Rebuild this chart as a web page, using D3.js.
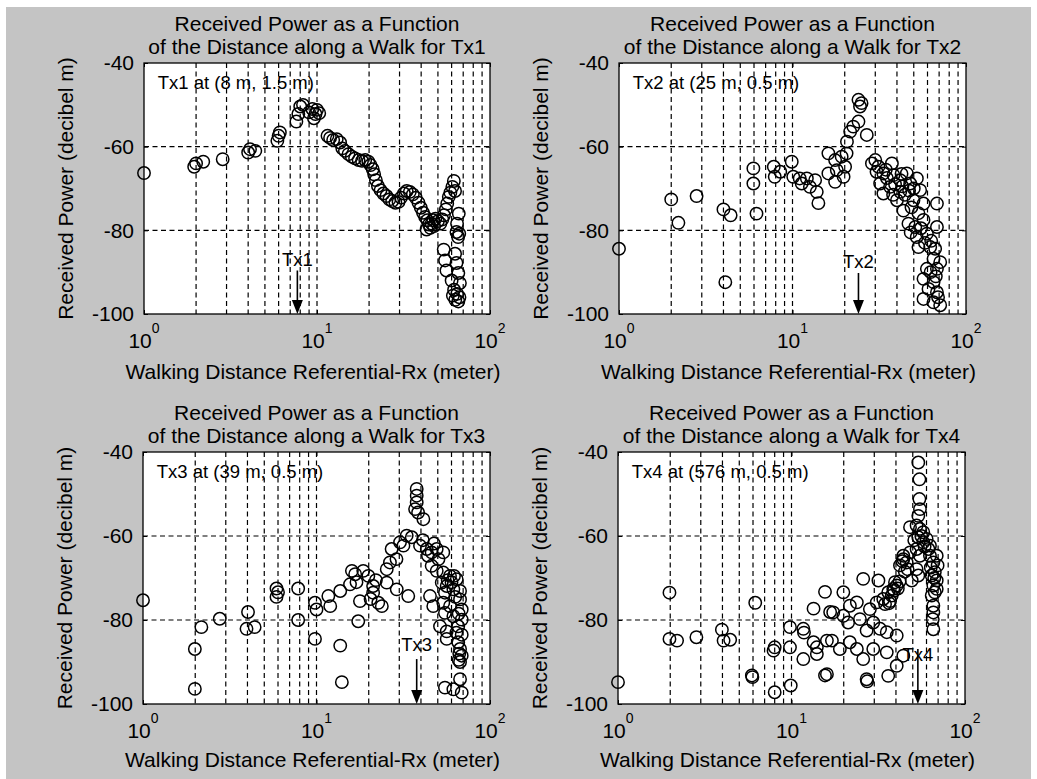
<!DOCTYPE html>
<html><head><meta charset="utf-8">
<script src="https://cdn.jsdelivr.net/npm/d3@7"></script>
<style>
body{margin:0;background:#fff}
svg{display:block}
text{font-family:"Liberation Sans",Arial,Helvetica,sans-serif;fill:#000}
</style>
</head><body>
<svg id="chart" width="1037" height="779"></svg>
<script>
// ---------- data ----------
const tx1Dist = [1.0,1.95,2.0,2.2,2.85,4.0,4.1,4.4,5.9,6.0,6.1,7.6,7.8,8.0,8.3,9.0,9.4,9.8,10.0,10.3,9.6,
 11.5,11.9,12.4,13.0,13.6,14.0,14.5,15.2,15.9,16.6,17.4,18.2,19.0,19.8,20.4,21.0,21.4,21.9,22.5,23.3,
 24.2,25.2,26.2,27.2,28.4,29.6,30.6,31.8,33.0,34.4,35.8,37.2,38.6,39.8,41.0,42.2,43.4,44.4,45.2,46.0,
 47.0,48.4,50.0,51.6,53.0,54.2,55.6,56.6,57.8,59.0,60.6,61.8,62.8,64.0,65.4,66.4,
 54.0,55.0,56.0,62.8,64.0,65.6,60.0,67.0,62.0,64.6,66.6,63.0,65.6,61.0,43.0,47.5,66.0,64.5];
const tx1Power = [-66.3,-64.8,-64.0,-63.6,-63.0,-61.4,-60.6,-61.0,-58.6,-57.4,-56.6,-54.0,-52.2,-50.4,-50.0,-51.8,-51.0,-52.2,-51.2,-52.0,-53.2,
 -57.4,-57.9,-58.4,-58.2,-59.0,-60.4,-61.0,-61.8,-62.4,-62.8,-63.2,-63.4,-63.2,-63.6,-64.4,-65.4,-66.6,-68.0,-69.4,-70.4,
 -71.2,-71.8,-72.6,-73.0,-73.4,-73.2,-72.2,-71.2,-70.6,-70.8,-71.4,-72.2,-73.4,-74.6,-75.8,-76.8,-77.6,-78.6,-79.4,-78.4,
 -77.6,-77.2,-77.8,-78.4,-77.4,-76.4,-75.0,-73.6,-72.0,-71.0,-69.6,-68.2,-70.6,-80.4,-81.6,-80.8,
 -84.6,-87.2,-89.6,-85.6,-87.8,-90.2,-92.0,-92.6,-94.2,-95.2,-96.0,-96.6,-97.0,-95.6,-79.8,-79.0,-76.0,-78.4];

const tx2Dist = [1.0,2.0,2.2,2.8,4.0,4.4,4.1,6.2,5.95,5.95,7.8,8.5,7.9,9.9,10.1,11.0,12.1,11.3,12.6,13.5,13.8,14.1,
 16.1,17.6,19.2,18.0,16.1,17.6,19.7,20.1,20.5,20.6,21.5,22.4,24.0,24.0,24.5,25.0,26.8,
 28.7,30.0,31.3,33.4,32.0,37.4,38.2,41.8,45.6,47.7,52.1,54.4,33.4,36.5,40.0,41.8,43.6,49.8,56.9,68.0,53.2,
 46.6,51.0,56.9,52.0,59.5,68.0,62.2,66.4,65.0,59.5,68.0,71.0,56.9,65.0,60.8,68.0,56.9,65.0,71.0,
 35.0,39.0,43.0,44.5,47.0,50.0,38.0,42.5,30.5,34.5,48.5,55.0,58.0,63.0,67.0,62.5,69.0,53.2,48.0];
const tx2Power = [-84.4,-72.6,-78.2,-71.8,-75.0,-76.4,-92.4,-76.0,-65.2,-68.8,-64.8,-66.0,-67.2,-63.6,-67.2,-67.6,-67.6,-68.8,-69.6,-68.0,-70.8,-73.5,
 -61.6,-63.2,-62.4,-65.6,-66.4,-68.4,-67.2,-64.8,-61.6,-58.8,-56.4,-55.2,-54.0,-48.8,-50.4,-49.6,-57.2,
 -64.0,-63.2,-64.8,-66.4,-68.8,-64.0,-66.8,-68.0,-66.4,-68.8,-67.6,-70.4,-71.2,-69.6,-72.8,-70.8,-75.3,-72.8,-73.6,-73.6,-75.9,
 -78.4,-79.2,-77.5,-81.6,-80.8,-79.2,-84.0,-84.4,-86.8,-89.2,-89.2,-87.6,-91.6,-92.4,-94.0,-94.8,-96.4,-97.2,-97.9,
 -67.5,-69.0,-69.5,-71.5,-70.5,-70.0,-71.5,-66.5,-66.0,-65.5,-74.5,-79.5,-83.0,-82.5,-91.0,-90.0,-96.0,-84.0,-80.5];

const tx3Dist = [1.0,1.99,1.99,2.17,2.77,4.03,3.95,4.4,5.88,5.88,6.0,7.84,7.84,
 9.8,10.0,9.8,11.7,12.0,13.7,13.7,14.0,15.6,16.0,16.7,18.6,19.9,17.8,17.4,21.2,21.2,22.7,23.8,25.4,29.0,33.8,
 25.4,26.5,28.9,27.1,30.3,31.7,33.1,35.4,
 37.8,37.8,37.8,37.0,38.5,41.3,
 39.5,43.2,46.1,49.3,53.8,43.9,46.1,49.3,53.8,58.8,64.3,52.7,56.3,61.5,67.2,45.1,47.1,53.8,58.8,67.2,
 55.0,61.5,68.7,51.5,56.3,65.6,68.7,56.3,65.6,67.2,68.7,67.2,68.7,55.0,61.5,67.2,68.7,
 50.5,57.0,60.0,62.0,55.0,63.0,66.0,64.0,66.5,66.0,47.5,41.0,22.0,17.0,20.5];
const tx3Power = [-75.3,-86.9,-96.4,-81.7,-79.7,-78.1,-82.1,-81.7,-72.5,-74.5,-73.4,-72.5,-80.0,
 -75.9,-77.5,-84.5,-74.3,-76.7,-73.1,-86.1,-94.8,-71.5,-68.3,-69.1,-68.3,-69.5,-75.5,-80.3,-73.5,-71.9,-75.9,-76.7,-71.1,-72.7,-74.3,
 -67.9,-66.3,-65.5,-63.1,-61.5,-62.3,-59.9,-60.3,
 -48.8,-50.4,-52.0,-53.6,-54.4,-56.0,
 -62.3,-63.1,-63.9,-63.1,-63.9,-64.7,-67.1,-68.3,-68.7,-69.5,-70.3,-71.1,-71.9,-72.7,-73.1,-74.3,-76.7,-75.9,-76.7,-75.1,
 -78.3,-79.1,-77.5,-81.5,-82.7,-81.5,-83.5,-84.5,-85.3,-86.9,-88.5,-90.0,-79.9,-96.1,-96.5,-94.1,-97.3,
 -65.5,-70.5,-71.0,-69.5,-73.5,-74.5,-78.5,-83.0,-88.0,-89.5,-61.8,-61.0,-70.5,-71.0,-75.0];

const tx4Dist = [1.0,1.98,1.98,2.19,2.83,3.97,4.06,4.43,6.18,5.91,5.95,7.88,8.0,8.0,9.9,9.8,9.8,
 11.7,11.8,11.7,13.4,13.4,14.0,14.0,15.6,15.6,16.7,17.1,16.0,17.4,19.9,19.9,21.7,23.8,21.2,24.8,28.3,25.9,31.7,
 19.0,21.7,23.8,25.9,29.6,29.6,27.1,32.4,35.4,40.4,35.4,44.1,40.4,27.1,27.3,36.1,16.0,
 31.0,33.8,36.1,38.6,37.8,40.4,34.6,39.0,41.0,37.0,42.0,39.5,36.5,
 44.1,46.1,42.2,46.7,44.1,48.2,43.5,45.0,
 53.8,54.6,54.6,55.0,53.8,52.6,48.2,55.0,57.5,53.8,60.1,57.5,61.5,52.6,55.0,62.8,52.6,53.8,49.3,56.0,58.5,51.0,
 68.7,65.7,69.5,67.0,64.3,68.7,65.7,67.0,64.3,68.7,65.7,65.7,65.2,65.7,62.8,66.5,63.5];
const tx4Power = [-94.8,-73.5,-84.5,-84.9,-84.1,-82.3,-84.9,-84.7,-75.9,-93.2,-93.6,-87.3,-86.5,-97.2,-95.6,-81.7,-86.5,
 -82.1,-83.0,-89.3,-77.3,-85.3,-86.5,-88.1,-73.3,-93.2,-78.1,-84.9,-84.9,-78.2,-73.4,-79.0,-76.6,-75.8,-80.6,-79.8,-77.4,-70.2,-70.6,
 -86.9,-85.3,-86.9,-89.3,-86.9,-80.6,-82.5,-82.1,-82.9,-83.7,-87.7,-88.5,-90.9,-94.1,-94.6,-93.3,-92.9,
 -75.8,-75.0,-73.4,-72.6,-74.2,-71.8,-76.2,-73.0,-72.5,-75.5,-70.8,-71.0,-76.0,
 -65.5,-66.3,-67.0,-67.9,-64.7,-63.9,-66.0,-68.5,
 -42.5,-46.5,-51.2,-53.6,-55.2,-57.5,-57.9,-58.3,-59.1,-60.3,-60.7,-61.5,-63.1,-63.1,-64.7,-64.7,-67.9,-69.4,-70.6,-60.0,-62.5,-61.0,
 -64.7,-66.3,-67.0,-68.6,-69.4,-70.6,-71.8,-73.4,-74.2,-72.6,-76.6,-78.2,-79.8,-82.2,-62.3,-70.0,-67.5];

const txNames = ["Tx1","Tx2","Tx3","Tx4"];
const txNotes = ["Tx1 at (8 m, 1.5 m)","Tx2 at (25 m, 0.5 m)","Tx3 at (39 m, 0.5 m)","Tx4 at (576 m, 0.5 m)"];
const txMarkDist = [7.7, 24, 37.8, 53.5];
const txLabelPower = [-88.6, -89.0, -87.4, -89.7];
const txArrowTop = [-89.6, -90.2, -89.3, -86.9];
const noteDist = 1.2, notePower = -46.2;

const yTicks = [-40,-60,-80,-100];
const yGrid = [-60,-80];
const xTicks = [1,10,100];
const xTickExp = ["0","1","2"];
const xGrid = [2,3,4,5,6,7,8,9,10,20,30,40,50,60,70,80,90];
const titleLine1 = "Received Power as a Function";
const titleLine2 = "of the Distance along a Walk for ";
const xLabel = "Walking Distance Referential-Rx (meter)";
const yLabel = "Received Power (decibel m)";

// ---------- layout ----------
const layout = [
  {left:144, top:63,  w:346, h:251, xl:65},
  {left:619, top:63,  w:347, h:251, xl:65},
  {left:143, top:452, w:347, h:252, xl:63},
  {left:618, top:452, w:347, h:252, xl:63}
];
const series = [[tx1Dist,tx1Power],[tx2Dist,tx2Power],[tx3Dist,tx3Power],[tx4Dist,tx4Power]];

const svg = d3.select("#chart");
svg.append("rect").attr("x",0).attr("y",0).attr("width",1037).attr("height",779).attr("fill","#fff");
svg.append("rect").attr("x",6).attr("y",7).attr("width",1025).attr("height",772).attr("fill","#c4c4c4");

layout.forEach((L,i)=>{
  const g = svg.append("g").attr("transform",`translate(${L.left},${L.top})`);
  const x = d3.scaleLog().domain([1,100]).range([0,L.w]);
  const y = d3.scaleLinear().domain([-100,-40]).range([L.h,0]);

  g.append("rect").attr("width",L.w).attr("height",L.h).attr("fill","#fff");

  // grid
  g.selectAll(".vg").data(xGrid).enter().append("line")
    .attr("x1",d=>x(d)).attr("x2",d=>x(d)).attr("y1",0).attr("y2",L.h)
    .attr("stroke","#000").attr("stroke-width",1.2).attr("stroke-dasharray","5,3.5");
  g.selectAll(".hg").data(yGrid).enter().append("line")
    .attr("x1",0).attr("x2",L.w).attr("y1",d=>y(d)).attr("y2",d=>y(d))
    .attr("stroke","#000").attr("stroke-width",1.2).attr("stroke-dasharray","5,3.5");

  // points
  const [dist,power] = series[i];
  g.selectAll(".pt").data(dist.map((d,k)=>[d,power[k]])).enter().append("circle")
    .attr("cx",d=>x(d[0])).attr("cy",d=>y(d[1])).attr("r",6.2)
    .attr("fill","none").attr("stroke","#000").attr("stroke-width",1.5);

  // note
  g.append("text").attr("x",x(noteDist)).attr("y",y(notePower))
    .attr("font-size",18.5).text(txNotes[i]);

  // Tx marker arrow
  const ax = x(txMarkDist[i]), by = y(-100);
  g.append("text").attr("x",ax).attr("y",y(txLabelPower[i])).attr("text-anchor","middle")
    .attr("font-size",18.5).text(txNames[i]);
  g.append("line").attr("x1",ax).attr("x2",ax).attr("y1",y(txArrowTop[i])).attr("y2",by-12)
    .attr("stroke","#000").attr("stroke-width",1.6);
  g.append("path").attr("d",`M${ax-5.5},${by-14}L${ax+5.5},${by-14}L${ax},${by}Z`).attr("fill","#000");

  // axes ticks
  const ax1 = g.append("g").attr("transform",`translate(0,${L.h})`)
    .call(d3.axisBottom(x).tickValues(xTicks).tickSizeInner(-4).tickSizeOuter(0).tickFormat(""));
  const ax2 = g.append("g")
    .call(d3.axisTop(x).tickValues(xTicks).tickSizeInner(-4).tickSizeOuter(0).tickFormat(""));
  const ax3 = g.append("g")
    .call(d3.axisLeft(y).tickValues(yTicks).tickSizeInner(-4).tickSizeOuter(0).tickPadding(10).tickFormat(d3.format("d")));
  const ax4 = g.append("g").attr("transform",`translate(${L.w},0)`)
    .call(d3.axisRight(y).tickValues(yTicks).tickSizeInner(-4).tickSizeOuter(0).tickFormat(""));
  [ax1,ax2,ax3,ax4].forEach(a=>{a.select(".domain").remove(); a.selectAll("line").attr("stroke","#000");});
  ax3.selectAll("text").attr("font-size",21).attr("font-family",'"Liberation Sans",Arial,sans-serif').attr("fill","#000")
     .text(d=>String(d));

  // x tick labels with superscripts
  const xt = g.selectAll(".xtl").data(xTicks).enter().append("text")
    .attr("x",d=>x(d)).attr("y",L.h+34).attr("text-anchor","middle").attr("font-size",21);
  xt.append("tspan").text("10");
  xt.append("tspan").attr("dy",-15).attr("font-size",14).text((d,k)=>xTickExp[k]);

  // box
  g.append("rect").attr("width",L.w).attr("height",L.h).attr("fill","none")
    .attr("stroke","#000").attr("stroke-width",1.3);

  // titles and labels
  g.append("text").attr("x",L.w/2).attr("y",-32).attr("text-anchor","middle").attr("font-size",21).text(titleLine1);
  g.append("text").attr("x",L.w/2).attr("y",-9).attr("text-anchor","middle").attr("font-size",21).text(titleLine2+txNames[i]);
  g.append("text").attr("x",L.w/2-4).attr("y",L.h+L.xl).attr("text-anchor","middle").attr("font-size",21).text(xLabel);
  g.append("text").attr("transform",`translate(-71,${L.h/2}) rotate(-90)`).attr("text-anchor","middle")
    .attr("font-size",21).text(yLabel);
});
</script>
</body></html>
